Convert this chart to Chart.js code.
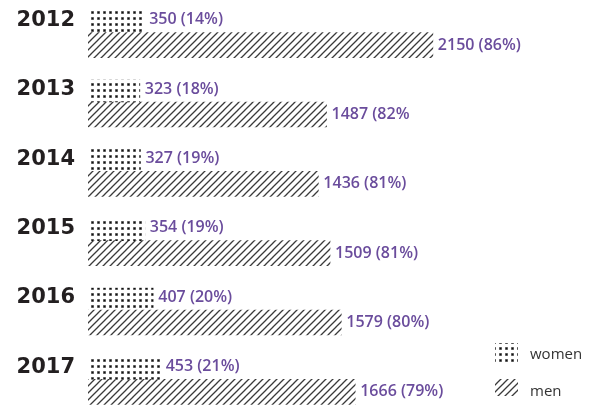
<!DOCTYPE html>
<html>
<head>
<meta charset="utf-8">
<script src="https://cdn.jsdelivr.net/npm/chart.js@4/dist/chart.umd.min.js"></script>
<style>
  html, body { margin: 0; padding: 0; background: #fff; overflow: hidden; }
  #wrap { position: absolute; left: 0; top: -2px; width: 594px; height: 416px; }
</style>
</head>
<body>
<div id="wrap"><canvas id="chart"></canvas></div>
<script>
  const years = ['2012', '2013', '2014', '2015', '2016', '2017'];
  const women = [350, 323, 327, 354, 407, 453];
  const men = [2150, 1487, 1436, 1509, 1579, 1666];
  const womenLabels = ['350 (14%)', '323 (18%)', '327 (19%)', '354 (19%)', '407 (20%)', '453 (21%)'];
  const menLabels = ['2150 (86%)', '1487 (82%', '1436 (81%)', '1509 (81%)', '1579 (80%)', '1666 (79%)'];

  const purple = '#6a4c9c';

  function dotPattern() {
    const c = document.createElement('canvas');
    c.width = 6;
    c.height = 6;
    const g = c.getContext('2d');
    g.fillStyle = '#999';
    g.fillRect(1, 1, 3, 3);
    g.fillStyle = '#111';
    g.fillRect(1.5, 1.5, 2, 2);
    return g.createPattern(c, 'repeat');
  }

  function hatchPattern() {
    const s = 7;
    const c = document.createElement('canvas');
    c.width = s;
    c.height = s;
    const g = c.getContext('2d');
    g.strokeStyle = '#3a3a3a';
    g.lineWidth = 1.3;
    g.beginPath();
    for (let k = -1; k <= 1; k++) {
      g.moveTo(k * s - 1, s + 1);
      g.lineTo(k * s + s + 1, -1);
    }
    g.stroke();
    return g.createPattern(c, 'repeat');
  }

  const valueLabels = {
    id: 'valueLabels',
    afterDatasetsDraw(chart) {
      const ctx = chart.ctx;
      ctx.save();
      ctx.font = '600 16px "Open Sans"';
      ctx.fillStyle = purple;
      ctx.textBaseline = 'middle';
      ctx.textAlign = 'left';
      chart.data.datasets.forEach((ds, di) => {
        const texts = di === 0 ? womenLabels : menLabels;
        chart.getDatasetMeta(di).data.forEach((bar, i) => {
          ctx.fillText(texts[i], bar.x + 5, bar.y + (di === 0 ? -2 : 0));
        });
      });
      ctx.restore();
    }
  };

  const patternLegend = {
    id: 'patternLegend',
    afterDraw(chart) {
      const ctx = chart.ctx;
      const x = chart.width - 99;
      const rows = [{ y: 345, h: 22 }, { y: 381, h: 17 }];
      ctx.save();
      ctx.font = '15px "Open Sans"';
      ctx.textBaseline = 'middle';
      chart.data.datasets.forEach((ds, i) => {
        const r = rows[i];
        ctx.fillStyle = ds.backgroundColor;
        ctx.fillRect(x, r.y, 23, r.h);
        ctx.fillStyle = '#333';
        ctx.fillText(ds.label, x + 35, i === 0 ? 357 : 394);
      });
      ctx.restore();
    }
  };

  new Chart(document.getElementById('chart'), {
    type: 'bar',
    data: {
      labels: years,
      datasets: [
        { label: 'women', data: women, backgroundColor: dotPattern(), barThickness: 22 },
        { label: 'men', data: men, backgroundColor: hatchPattern(), barThickness: 25 }
      ]
    },
    options: {
      indexAxis: 'y',
      responsive: true,
      maintainAspectRatio: false,
      animation: false,
      layout: { padding: { left: 0, right: 105, top: 0, bottom: 0 } },
      datasets: { bar: { categoryPercentage: 0.68, barPercentage: 1, borderWidth: 0 } },
      plugins: {
        legend: { display: false },
        tooltip: { enabled: false }
      },
      scales: {
        x: { display: false, min: 0, max: 2500 },
        y: {
          grid: { display: false, drawTicks: false },
          border: { display: false },
          afterFit: (scale) => {
            scale.width = 88;
            scale.paddingTop = 0;
            scale.paddingBottom = 0;
          },
          ticks: {
            padding: 13,
            labelOffset: -12,
            color: '#231f20',
            font: { family: 'DejaVu Sans', weight: 'bold', size: 21 }
          }
        }
      }
    },
    plugins: [valueLabels, patternLegend]
  });
</script>
</body>
</html>
